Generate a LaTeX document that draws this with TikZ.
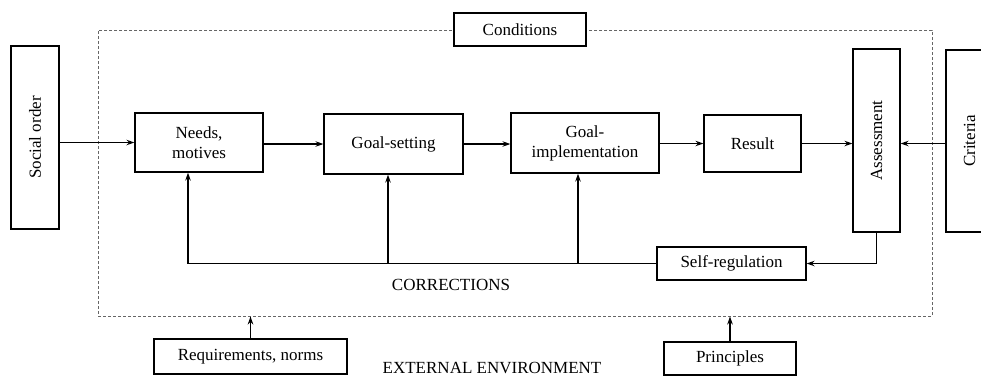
\documentclass[tikz,border=0pt]{standalone}
\usepackage{fontspec}
\usepackage{graphicx}
\setmainfont{Liberation Serif}
\usetikzlibrary{arrows.meta}
\begin{document}
\begin{tikzpicture}[x=1pt,y=-1pt,
  every node/.style={font=\fontsize{17}{20}\selectfont, inner sep=0pt, align=center},
  blk/.style={draw, line width=1.2pt, fill=white},
  flow/.style={line width=1.7pt, -{Stealth[length=8pt,width=5.5pt]}},
  frame/.style={draw=black!60, line width=0.9pt, dash pattern=on 3pt off 2pt}]
\useasboundingbox (0,0) rectangle (981,376);
\clip (0,0) rectangle (981,376);

% external environment boundary
\node[frame, minimum width=834, minimum height=286] (env) at (515,173) {};
\node[blk, minimum width=132, minimum height=33] (cond) at (520,29.5) {Conditions};

% main chain
\node[blk, minimum width=48, minimum height=183] (social) at (35,137.5) {\rotatebox{90}{Social order}};
\node[blk, minimum width=128, minimum height=59] (needs) at (199,142.5) {Needs,\\motives};
\node[blk, minimum width=139, minimum height=60] (goalset) at (393.5,144) {Goal-setting};
\node[blk, minimum width=148, minimum height=60] (goalimpl) at (585,143) {Goal-\\implementation};
\node[blk, minimum width=97, minimum height=57] (result) at (752.5,143.5) {Result};
\node[blk, minimum width=47, minimum height=183] (assess) at (876.5,140.5) {\rotatebox{90}{Assessment}};
\node[blk, minimum width=47, minimum height=182] (criteria) at (969.5,141) {\rotatebox{90}{Criteria}};
\node[blk, minimum width=149, minimum height=33] (selfreg) at (731.5,263.5) {Self-regulation};

% outside inputs
\node[blk, minimum width=193, minimum height=35] (req) at (250.5,356.5) {Requirements, norms};
\node[blk, minimum width=132, minimum height=33] (princ) at (730,358.5) {Principles};

% labels
\node (corr) at (451,285) {CORRECTIONS};
\node[anchor=base] (envlabel) at (492,373) {EXTERNAL ENVIRONMENT};

% forward flow
\draw[flow] (social.east |- needs.west) -- (needs.west);
\draw[flow] (needs.east |- goalset.west) -- (goalset.west);
\draw[flow] (goalset.east) -- (goalimpl.west |- goalset.east);
\draw[flow] (goalimpl.east |- result.west) -- (result.west);
\draw[flow] (result.east) -- (assess.west |- result.east);
\draw[flow] (criteria.west |- result.east) -- (assess.east |- result.east);

% feedback loop
\draw[flow] (assess.south) -- (assess.south |- selfreg.east) -- (selfreg.east);
\draw[flow] (selfreg.west) -- ([xshift=-11pt]needs.south |- selfreg.west) -- ([xshift=-11pt]needs.south);
\draw[flow] ([xshift=-5.5pt]goalset.south |- selfreg.west) -- ([xshift=-5.5pt]goalset.south);
\draw[flow] ([xshift=-7pt]goalimpl.south |- selfreg.west) -- ([xshift=-7pt]goalimpl.south);

% environment influences
\draw[flow] (req.north) -- (req.north |- env.south);
\draw[flow] (princ.north) -- (princ.north |- env.south);
\end{tikzpicture}
\end{document}
